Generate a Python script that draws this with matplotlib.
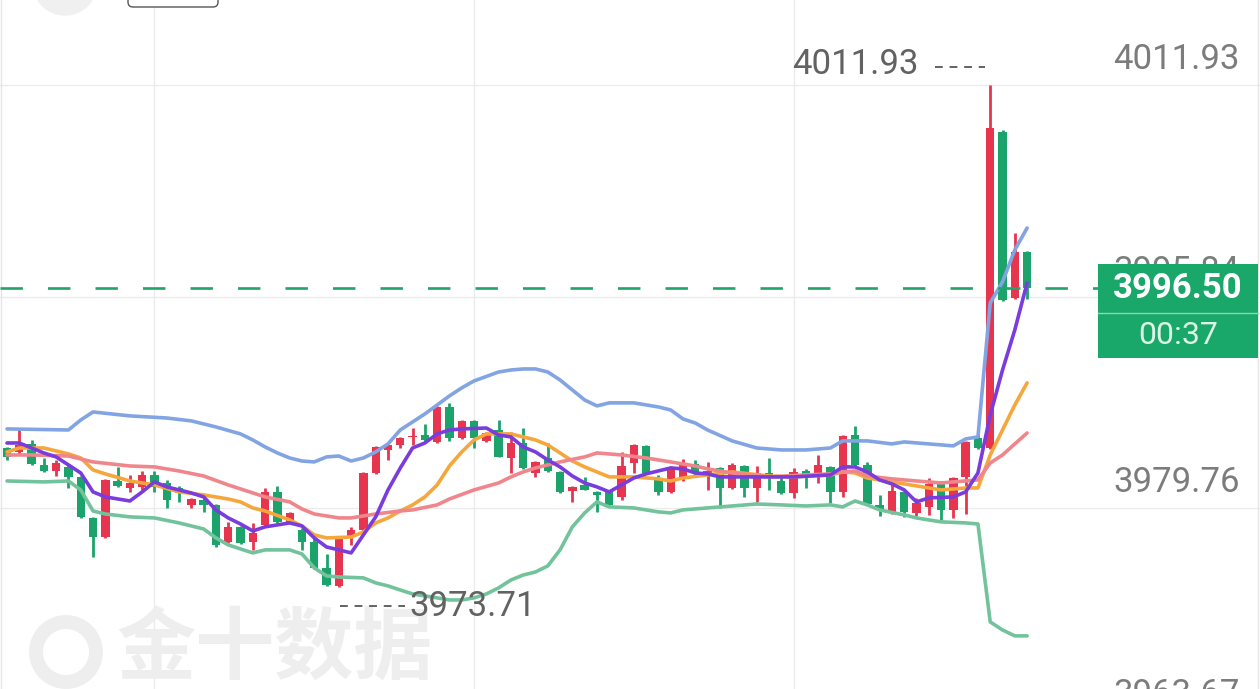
import numpy as np
import matplotlib
matplotlib.use("Agg")
import matplotlib.pyplot as plt
from matplotlib.patches import Rectangle, FancyBboxPatch, Ellipse
from matplotlib.transforms import IdentityTransform

# ---- candles (bar index 0..83) ----
opens = [3984.32, 3984.02, 3984.63, 3983.03, 3982.57, 3982.88, 3982.12, 3979.00, 3977.55, 3981.81,
         3981.28, 3981.36, 3982.27, 3981.66, 3981.28, 3979.99, 3980.37, 3979.99, 3977.17, 3978.32,
         3977.17, 3978.47, 3980.98, 3978.70, 3978.09, 3977.17, 3975.20, 3973.85, 3977.55, 3978.09,
         3982.42, 3984.17, 3984.55, 3985.16, 3985.31, 3984.78, 3987.44, 3985.08, 3986.38, 3984.86,
         3985.69, 3983.56, 3984.70, 3982.42, 3983.56, 3982.50, 3981.05, 3981.51, 3980.98, 3980.98,
         3980.60, 3983.18, 3984.48, 3982.04, 3980.98, 3982.12, 3983.11, 3982.27, 3982.80, 3981.28,
         3982.95, 3981.28, 3982.42, 3981.81, 3980.90, 3982.57, 3982.27, 3982.88, 3980.98, 3985.31,
         3983.03, 3979.99, 3979.46, 3980.98, 3979.38, 3979.84, 3981.66, 3979.61, 3982.12, 3985.08,
         3984.32, 4008.35, 3995.73, 3999.23]
highs = [3984.40, 3985.84, 3984.93, 3983.56, 3983.41, 3983.03, 3982.19, 3979.08, 3981.97, 3982.88,
         3982.27, 3982.57, 3982.57, 3981.89, 3981.43, 3980.52, 3980.60, 3980.06, 3978.70, 3978.39,
         3978.62, 3981.28, 3981.43, 3979.46, 3978.24, 3977.48, 3976.26, 3977.55, 3978.32, 3982.50,
         3984.48, 3984.62, 3985.16, 3985.84, 3986.15, 3987.52, 3987.75, 3986.45, 3986.45, 3985.54,
         3986.45, 3985.54, 3985.84, 3983.33, 3984.70, 3982.55, 3981.43, 3982.12, 3981.05, 3981.13,
         3984.02, 3984.63, 3984.55, 3982.27, 3982.95, 3983.49, 3983.41, 3983.26, 3982.85, 3983.18,
         3983.03, 3982.95, 3983.56, 3982.27, 3982.80, 3982.73, 3983.79, 3982.95, 3985.31, 3986.00,
         3983.26, 3980.75, 3981.66, 3981.05, 3980.52, 3982.04, 3981.81, 3982.12, 3984.85, 3985.92,
         4011.93, 4008.51, 4000.67, 3999.30]
lows = [3983.41, 3983.87, 3983.03, 3982.50, 3982.19, 3981.28, 3979.00, 3976.03, 3977.48, 3981.36,
        3980.98, 3981.13, 3980.98, 3979.76, 3980.22, 3979.76, 3979.46, 3976.79, 3977.10, 3977.02,
        3976.57, 3978.32, 3978.62, 3978.62, 3976.57, 3975.10, 3973.80, 3973.71, 3976.95, 3978.01,
        3982.35, 3983.41, 3984.32, 3984.55, 3984.78, 3984.70, 3984.86, 3985.00, 3984.32, 3984.78,
        3983.60, 3982.42, 3982.73, 3982.12, 3982.50, 3980.90, 3980.22, 3981.10, 3979.46, 3979.91,
        3980.37, 3982.42, 3982.35, 3980.75, 3980.90, 3981.81, 3982.27, 3981.13, 3979.76, 3981.20,
        3980.60, 3980.22, 3981.13, 3980.82, 3980.52, 3981.28, 3981.66, 3980.14, 3980.60, 3982.95,
        3979.99, 3979.15, 3979.30, 3979.08, 3979.15, 3979.23, 3978.85, 3979.00, 3979.30, 3984.25,
        3984.25, 3995.50, 3995.65, 3995.65]
closes = [3983.64, 3984.55, 3983.11, 3982.57, 3983.18, 3982.12, 3979.08, 3977.55, 3981.89, 3981.43,
          3981.66, 3982.27, 3981.36, 3980.37, 3980.90, 3980.44, 3979.99, 3976.95, 3978.32, 3977.10,
          3977.86, 3980.98, 3978.70, 3979.38, 3977.17, 3975.20, 3973.90, 3977.40, 3978.09, 3982.42,
          3984.40, 3984.55, 3985.08, 3985.24, 3984.93, 3987.44, 3985.08, 3986.38, 3985.08, 3985.46,
          3983.64, 3984.70, 3982.80, 3983.26, 3982.57, 3980.98, 3981.36, 3981.13, 3980.75, 3979.99,
          3982.95, 3984.55, 3982.42, 3980.98, 3982.88, 3983.03, 3982.42, 3982.57, 3981.28, 3983.03,
          3981.28, 3982.42, 3982.04, 3980.90, 3982.50, 3982.27, 3983.03, 3980.98, 3985.24, 3983.03,
          3980.06, 3979.61, 3981.05, 3979.46, 3980.14, 3981.59, 3979.61, 3982.04, 3984.78, 3984.32,
          4008.66, 3995.58, 3999.23, 3996.50]

# ---- indicator lines, read at bar indices ----
bb_up_idx = [0, 5, 6, 7, 10, 13, 15, 17, 19, 20, 21, 22, 23, 24, 25, 26, 27, 28, 29, 30, 31, 32, 33, 34,
             35, 36, 37, 38, 40, 41, 42, 43, 44, 45, 46, 47, 48, 49, 51, 53, 54, 55, 56, 57, 59, 61, 63,
             65, 67, 68, 70, 72, 73, 75, 77, 78, 79, 80, 81, 82, 83]
bb_up = [3985.77, 3985.69, 3986.45, 3987.06, 3986.76, 3986.60, 3986.38, 3985.92, 3985.39, 3984.93,
         3984.40, 3983.94, 3983.56, 3983.33, 3983.26, 3983.64, 3983.71, 3983.33, 3983.56, 3984.02,
         3984.63, 3985.69, 3986.30, 3986.91, 3987.59, 3988.28, 3988.89, 3989.42, 3990.10, 3990.25,
         3990.33, 3990.33, 3990.10, 3989.49, 3988.73, 3987.97, 3987.52, 3987.75, 3987.75, 3987.44,
         3987.21, 3986.53, 3986.22, 3985.69, 3984.86, 3984.32, 3984.17, 3984.17, 3984.32, 3984.86,
         3984.86, 3984.63, 3984.78, 3984.63, 3984.48, 3985.01, 3985.16, 3995.35, 3996.95, 3999.38,
         4001.05]

bb_dn_idx = [0, 3, 5, 6, 7, 8, 10, 12, 14, 16, 17, 18, 19, 20, 21, 23, 24, 25, 26, 27, 29, 30, 31, 32,
             33, 34, 35, 36, 37, 38, 39, 40, 41, 42, 43, 44, 45, 46, 47, 48, 49, 51, 53, 54, 55, 57, 59,
             61, 63, 65, 67, 68, 69, 70, 71, 73, 74, 76, 78, 79, 80, 81, 82, 83]
bb_dn = [3981.81, 3981.74, 3981.81, 3981.13, 3979.53, 3979.30, 3979.08, 3979.00, 3978.62, 3978.16,
         3977.48, 3976.95, 3976.64, 3976.34, 3976.57, 3976.57, 3976.26, 3975.20, 3974.59, 3974.51,
         3974.44, 3974.06, 3973.83, 3973.52, 3973.22, 3973.07, 3972.92, 3972.76, 3972.76, 3972.92,
         3973.22, 3973.68, 3974.28, 3974.66, 3974.89, 3975.35, 3976.57, 3978.32, 3979.38, 3980.22,
         3979.84, 3979.76, 3979.46, 3979.38, 3979.61, 3979.76, 3979.91, 3980.06, 3979.99, 3979.91,
         3979.99, 3979.84, 3980.29, 3979.99, 3979.61, 3979.23, 3979.00, 3978.70, 3978.62, 3978.54,
         3971.09, 3970.48, 3970.03, 3970.03]

bb_mid_idx = [0, 2, 5, 7, 10, 12, 14, 16, 18, 21, 23, 24, 25, 27, 28, 30, 32, 33, 35, 36, 38, 40, 41, 42,
              43, 45, 47, 48, 50, 52, 54, 56, 57, 59, 62, 65, 67, 68, 69, 70, 72, 74, 76, 77, 79, 80,
              81, 82, 83]
bb_mid = [3983.79, 3983.79, 3983.71, 3983.26, 3982.95, 3982.88, 3982.57, 3982.19, 3981.51, 3980.60,
          3980.22, 3979.68, 3979.30, 3979.00, 3979.00, 3979.30, 3979.53, 3979.61, 3979.99, 3980.44,
          3981.13, 3981.66, 3982.12, 3982.50, 3982.80, 3983.26, 3983.64, 3983.94, 3983.79, 3983.56,
          3983.26, 3982.95, 3982.73, 3982.42, 3982.12, 3982.27, 3982.35, 3982.50, 3982.57, 3982.19,
          3981.97, 3981.81, 3981.66, 3981.74, 3981.89, 3983.18, 3983.79, 3984.63, 3985.46]

ma10_idx = [0, 1, 3, 5, 6, 7, 8, 10, 12, 14, 16, 18, 19, 20, 21, 23, 24, 25, 26, 28, 29, 30, 31, 32, 33,
            34, 35, 36, 37, 38, 39, 41, 43, 44, 45, 46, 47, 48, 49, 51, 53, 54, 55, 57, 59, 62, 64, 67,
            68, 69, 70, 73, 75, 76, 78, 79, 80, 81, 82, 83]
ma10 = [3984.02, 3984.32, 3984.32, 3983.87, 3983.56, 3982.65, 3982.35, 3981.81, 3981.51, 3980.98,
        3980.75, 3980.44, 3980.22, 3979.76, 3979.53, 3978.85, 3978.39, 3977.71, 3977.48, 3977.55,
        3977.93, 3978.62, 3979.00, 3979.53, 3979.99, 3980.60, 3981.51, 3982.95, 3984.02, 3984.93,
        3985.39, 3985.39, 3984.93, 3984.55, 3983.94, 3983.33, 3982.88, 3982.50, 3982.12, 3982.12,
        3981.97, 3981.81, 3982.04, 3982.27, 3982.50, 3982.19, 3982.12, 3982.27, 3982.50, 3982.42,
        3982.04, 3981.59, 3981.28, 3981.13, 3981.28, 3981.28, 3983.79, 3985.69, 3987.59, 3989.27]

ma5_idx = [0, 1, 2, 3, 4, 5, 6, 7, 8, 10, 11, 12, 13, 15, 16, 17, 18, 19, 20, 21, 23, 24, 25, 26, 27,
           28, 29, 30, 31, 32, 33, 34, 35, 36, 37, 39, 40, 41, 42, 43, 44, 45, 46, 47, 48, 49, 50, 51,
           52, 54, 55, 56, 57, 58, 61, 64, 67, 68, 69, 70, 71, 72, 73, 74, 75, 77, 78, 79, 80, 81, 82, 83]
ma5 = [3984.70, 3984.70, 3984.32, 3983.94, 3983.64, 3983.03, 3982.42, 3980.98, 3980.60, 3980.29,
       3980.98, 3981.74, 3981.36, 3980.90, 3980.60, 3979.61, 3979.00, 3978.54, 3978.01, 3978.32,
       3978.62, 3978.39, 3977.48, 3976.79, 3976.57, 3976.34, 3977.71, 3979.08, 3981.13, 3982.80,
       3984.32, 3984.70, 3985.39, 3985.69, 3985.77, 3985.84, 3985.31, 3985.16, 3984.40, 3984.02,
       3983.41, 3982.88, 3982.19, 3981.66, 3981.36, 3980.98, 3981.51, 3982.04, 3982.35, 3982.80,
       3982.73, 3982.42, 3982.35, 3982.12, 3982.12, 3982.12, 3982.27, 3982.88, 3982.88, 3982.50,
       3981.89, 3981.59, 3981.13, 3980.22, 3980.52, 3980.60, 3980.98, 3982.42, 3986.83, 3990.25,
       3993.30, 3996.87]

price_ticks = [4011.93, 3995.84, 3979.76, 3963.67]
timer_text = "00:37"

RED = "#e8354f"
GREEN = "#1ba36b"
W, H = 1260, 689

fig = plt.figure(figsize=(12.6, 6.89), dpi=100)
ax = fig.add_axes([0, 0, 1, 1])
ax.set_axis_off()
ax.set_xlim(-0.57, 101.95)
ax.set_ylim(3965.99, 4018.39)

num_font = ["Roboto", "DejaVu Sans"]
pix = IdentityTransform()

# grid
for p in price_ticks:
    ax.axhline(p, color="#ebebeb", lw=1, zorder=0)
for b in [12, 38, 64]:
    ax.axvline(b, color="#ebebeb", lw=1, zorder=0)
ax.axvline(-0.49, color="#e6e6e6", lw=1, zorder=0)
ax.axvline(101.8, color="#e6e6e6", lw=1, zorder=0)

# watermark
ax.text(275, H - 650, "金十数据", transform=pix, family=["Noto Sans CJK SC", "DejaVu Sans"],
        fontsize=57, fontweight="heavy", color="#eeeeee", ha="center", va="center", zorder=0)
ax.add_patch(Ellipse((66, H - 652), 60, 60, transform=pix, fill=False,
                     edgecolor="#eeeeee", lw=10, zorder=0))

# top-left UI leftovers
ax.add_patch(Ellipse((65, H + 17), 64, 64, transform=pix, color="#f0f0f0", zorder=5))
ax.add_patch(FancyBboxPatch((128, H - 7), 90, 30, transform=pix,
                            boxstyle="round,pad=0,rounding_size=5",
                            facecolor="white", edgecolor="#555555", lw=1, zorder=5))

# candles
x = np.arange(len(opens))
o = np.array(opens)
c = np.array(closes)
cols = np.where(c >= o, RED, GREEN)
ax.vlines(x, lows, highs, colors=cols, lw=2.0, zorder=2)
ax.bar(x, np.maximum(np.abs(c - o), 0.08), bottom=np.minimum(o, c), width=0.68,
       color=cols, zorder=3)

# indicators
lk = dict(lw=2.6, zorder=4, solid_joinstyle="round", solid_capstyle="round")
ax.plot(bb_dn_idx, bb_dn, color="#72c39c", **lk)
ax.plot(bb_up_idx, bb_up, color="#82a4e3", **lk)
ax.plot(ma10_idx, ma10, color="#f6a73c", **lk)
ax.plot(bb_mid_idx, bb_mid, color="#f0868c", **lk)
ax.plot(ma5_idx, ma5, color="#7a3cdc", **lk)

# last price dashed line
last = closes[-1]
ax.axhline(last, xmin=0, xmax=1098 / W, color="#23a26a", lw=1.9,
           linestyle=(0, (8.5, 9.5)), zorder=6)

# right price labels (the one behind the price box stays partly hidden)
for p in price_ticks:
    ax.annotate(f"{p:.2f}", xy=(1240 / W, p), xycoords=("axes fraction", "data"),
                xytext=(0, 18), textcoords="offset points", ha="right", va="center",
                fontsize=25, color="#7c7c7c", family=num_font, zorder=7)

# current price box
ax.add_patch(Rectangle((1098, H - 358), 160, 94, transform=pix,
                       facecolor="#1aa86a", edgecolor="none", zorder=8))
ax.plot([1098, 1258], [H - 313, H - 313], transform=pix, color="#8fd6b4", lw=1, zorder=9)
ax.text(1178, H - 289, f"{last:.2f}", transform=pix, ha="center", va="center",
        fontsize=25, fontweight="bold", color="white", family=num_font, zorder=10)
ax.text(1178, H - 335, timer_text, transform=pix, ha="center", va="center",
        fontsize=23, color="#dcf3e7", family=num_font, zorder=10)

# high / low markers
hi_i = int(np.argmax(highs))
lo_i = int(np.argmin(lows))
hx, hy = ax.transData.transform((hi_i, max(highs)))
lx, ly = ax.transData.transform((lo_i, min(lows)))
ax.text(hx - 72, hy + 20, f"{max(highs):.2f}", transform=pix, ha="right", va="center",
        fontsize=25, color="#626262", family=num_font, zorder=7)
ax.plot([hx - 55, hx - 5], [hy + 18, hy + 18], transform=pix, color="#626262", lw=1.4,
        linestyle=(0, (4, 3.5)), zorder=7)
ax.plot([lx + 1, lx + 66], [ly - 19, ly - 19], transform=pix, color="#626262", lw=1.4,
        linestyle=(0, (4, 3.5)), zorder=7)
ax.text(lx + 71, ly - 19, f"{min(lows):.2f}", transform=pix, ha="left", va="center",
        fontsize=25, color="#626262", family=num_font, zorder=7)

fig.savefig("out.png", dpi=100, facecolor="white")
